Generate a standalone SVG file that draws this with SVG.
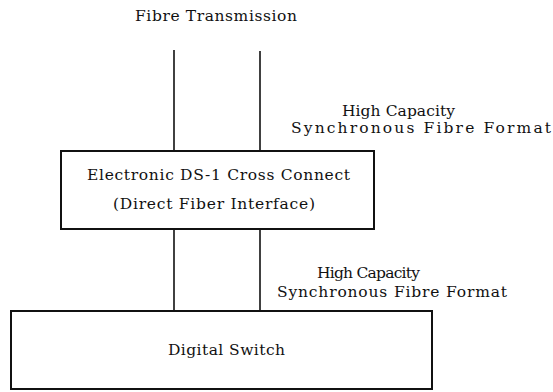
<svg xmlns="http://www.w3.org/2000/svg" width="553" height="392" viewBox="0 0 553 392">
<style>
text{font-family:"DejaVu Serif","Liberation Serif",serif;font-size:15.5px;fill:#111}
.box{fill:#fff;stroke:#111;stroke-width:2}
.ln{stroke:#111;stroke-width:1.6;fill:none}
</style>
<rect width="553" height="392" fill="#fff"/>
<text x="135" y="21" textLength="162" lengthAdjust="spacing">Fibre Transmission</text>
<g id="connectors">
<line class="ln" x1="174" y1="50" x2="174" y2="151"/>
<line class="ln" x1="260" y1="51" x2="260" y2="151"/>
<line class="ln" x1="174" y1="229" x2="174" y2="311"/>
<line class="ln" x1="260" y1="229" x2="260" y2="311"/>
</g>
<g id="label-top">
<text x="342" y="116" textLength="113" lengthAdjust="spacing">High Capacity</text>
<text x="291" y="133" textLength="260" lengthAdjust="spacing">Synchronous Fibre Format</text>
</g>
<g id="cross-connect">
<rect class="box" x="61" y="151" width="313" height="78"/>
<text x="87" y="180" textLength="263" lengthAdjust="spacing">Electronic DS-1 Cross Connect</text>
<text x="113" y="209" textLength="202" lengthAdjust="spacing">(Direct Fiber Interface)</text>
</g>
<g id="label-bottom">
<text x="317" y="278" textLength="103" lengthAdjust="spacing">High Capacity</text>
<text x="277" y="297" textLength="230" lengthAdjust="spacing">Synchronous Fibre Format</text>
</g>
<g id="digital-switch">
<rect class="box" x="11" y="311" width="421" height="78"/>
<text x="168" y="355" textLength="117" lengthAdjust="spacing">Digital Switch</text>
</g>
</svg>
